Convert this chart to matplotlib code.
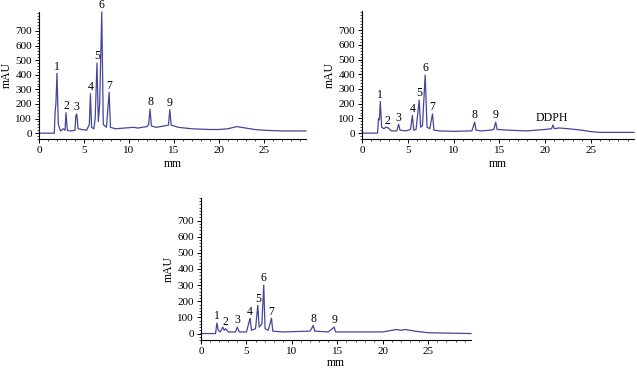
import matplotlib
matplotlib.use("Agg")
import matplotlib.pyplot as plt
from matplotlib.ticker import MultipleLocator

plt.rcParams['font.family'] = ['Liberation Serif', 'DejaVu Serif']

# chromatogram traces (time in min, signal in mAU)
t1 = [0, 1.7, 1.8, 1.88, 2.0, 2.15, 2.4, 2.7, 2.9, 3.0, 3.15, 3.5, 4.0, 4.1, 4.2, 4.35, 4.8, 5.3,
      5.6, 5.72, 5.85, 6.1, 6.25, 6.45, 6.6, 6.75, 6.98, 7.15, 7.5, 7.8, 7.95, 8.5, 9.5, 10.5, 11,
      12, 12.2, 12.35, 12.5, 13, 14, 14.4, 14.55, 14.7, 15.5, 17, 19, 20, 21, 22, 23, 24, 25, 27, 29.7]
y1 = [0, 0, 150, 200, 410, 60, 15, 30, 20, 140, 20, 15, 20, 120, 130, 30, 25, 20,
      60, 270, 40, 30, 100, 480, 80, 200, 830, 60, 40, 280, 40, 30, 35, 40, 35,
      45, 60, 165, 50, 40, 50, 55, 160, 55, 40, 30, 25, 25, 30, 45, 35, 25, 20, 15, 15]

t2 = [0, 1.7, 1.8, 1.9, 2.0, 2.15, 2.4, 2.6, 2.9, 3.2, 3.8, 4.0, 4.15, 4.8, 5.3, 5.5, 5.65, 5.9,
      6.25, 6.4, 6.6, 6.9, 7.1, 7.4, 7.7, 7.85, 8.5, 10, 12, 12.3, 12.45, 13, 14, 14.4, 14.6, 14.75,
      16, 18, 20, 20.7, 20.85, 21, 21.5, 22.5, 24, 25, 26, 29.7]
y2 = [0, 0, 100, 90, 215, 40, 30, 40, 35, 15, 15, 60, 20, 15, 25, 120, 20, 25,
      225, 40, 50, 395, 40, 30, 130, 20, 15, 12, 15, 75, 20, 15, 20, 25, 75, 25,
      20, 15, 25, 30, 55, 30, 35, 30, 20, 10, 5, 5]

t3 = [0, 1.6, 1.75, 1.9, 2.1, 2.4, 2.55, 2.7, 3.0, 3.8, 4.0, 4.2, 5.0, 5.4, 5.55, 6.0, 6.25, 6.4,
      6.7, 6.9, 7.05, 7.4, 7.75, 7.9, 9, 12, 12.35, 12.5, 14, 14.65, 14.8, 17, 20, 21.5, 22, 22.5,
      23.5, 25, 29.7]
y3 = [0, 0, 65, 20, 10, 40, 20, 30, 10, 10, 40, 10, 10, 95, 20, 30, 175, 40,
      60, 300, 30, 20, 95, 15, 10, 15, 50, 15, 10, 40, 10, 10, 10, 25, 20, 25,
      15, 5, 0]

# peak labels: (label, time, top)
peaks1 = [("1", 2.0, 410), ("2", 3.0, 140), ("3", 4.15, 130), ("4", 5.72, 270), ("5", 6.45, 480),
          ("6", 6.98, 830), ("7", 7.8, 280), ("8", 12.35, 165), ("9", 14.55, 160)]
peaks2 = [("1", 2.0, 215), ("2", 2.75, 40), ("3", 4.0, 60), ("4", 5.5, 120), ("5", 6.25, 225),
          ("6", 6.9, 395), ("7", 7.7, 130), ("8", 12.3, 75), ("9", 14.6, 75), ("DDPH", 20.7, 55)]
peaks3 = [("1", 1.75, 65), ("2", 2.7, 30), ("3", 4.0, 40), ("4", 5.4, 95), ("5", 6.25, 175),
          ("6", 6.9, 300), ("7", 7.75, 95), ("8", 12.35, 50), ("9", 14.65, 40)]

fig = plt.figure(figsize=(6.37, 3.7), dpi=100)
W, H = 637, 370

def px_axes(left, right, top, bottom):
    return fig.add_axes([left / W, 1 - bottom / H, (right - left) / W, (bottom - top) / H])

panels = [
    (px_axes(39, 306, 12, 139), t1, y1, peaks1, (-40, 830), 2),
    (px_axes(362, 634, 11, 139), t2, y2, peaks2, (-40, 830), 2),
    (px_axes(201, 471, 198, 340), t3, y3, peaks3, (-40, 840), 0.5),
]

for ax, t, y, peaks, ylim, xpad in panels:
    ax.plot(t, y, color="#45459a", lw=0.9, clip_on=False)
    ax.set_xlim(0, 29.7)
    ax.set_ylim(*ylim)
    for lab, tt, top in peaks:
        ax.annotate(lab, (tt, top), xytext=(0, 0.5), textcoords="offset points",
                    ha="center", va="bottom", fontsize=8.5, annotation_clip=False)
    ax.spines["top"].set_visible(False)
    ax.spines["right"].set_visible(False)
    ax.spines["left"].set_linewidth(0.8)
    ax.spines["bottom"].set_linewidth(0.8)
    ax.set_xticks([0, 5, 10, 15, 20, 25])
    ax.xaxis.set_minor_locator(MultipleLocator(1))
    ax.set_yticks(range(0, 800, 100))
    ax.yaxis.set_minor_locator(MultipleLocator(20))
    ax.tick_params(which="major", length=3, width=0.7, labelsize=8, pad=2)
    ax.tick_params(which="minor", length=1.5, width=0.5)
    ax.set_xlabel("mm", fontsize=8.5, labelpad=xpad)
    ax.set_ylabel("mAU", fontsize=8.5, labelpad=2)

fig.savefig("out.png", dpi=100)
